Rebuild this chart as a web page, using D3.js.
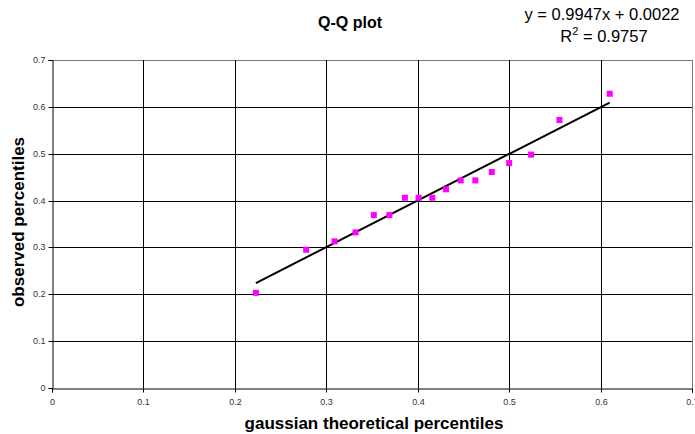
<!DOCTYPE html>
<html>
<head>
<meta charset="utf-8">
<script src="https://cdn.jsdelivr.net/npm/d3@7"></script>
<style>
    html, body { margin: 0; padding: 0; background: #fff; }
</style>
</head>
<body>
<div id="chart"></div>
<script>
// Data
const theoretical = [0.223, 0.278, 0.309, 0.332, 0.352, 0.369, 0.386, 0.401, 0.416,
    0.431, 0.447, 0.463, 0.481, 0.500, 0.524, 0.555, 0.610];
const observed = [0.203, 0.295, 0.313, 0.332, 0.369, 0.369, 0.406, 0.406, 0.406,
    0.424, 0.443, 0.443, 0.461, 0.480, 0.498, 0.572, 0.628];
const xTicks = [0, 0.1, 0.2, 0.3, 0.4, 0.5, 0.6, 0.7];
const yTicks = [0, 0.1, 0.2, 0.3, 0.4, 0.5, 0.6, 0.7];
const trendSlope = 0.9947;
const trendIntercept = 0.0022;
const trendR2 = 0.9757;

class Chart {
    constructor() {
        const attrs = {
            container: "#chart",
            svgWidth: 695,
            svgHeight: 434,
            marginTop: 60,
            marginLeft: 52,
            marginRight: 3,
            marginBottom: 46,
            defaultFont: "Arial, 'Liberation Sans', sans-serif",
            markerColor: "#FF00FF",
            gridColor: "#000",
            tickTextFill: "#333"
        };
        this.getState = () => attrs;
        this.setState = (d) => Object.assign(attrs, d);
    }

    render() {
        this.drawSvgAndWrappers();
        this.drawAxes();
        this.drawPoints();
        this.drawTexts();
        return this;
    }

    drawSvgAndWrappers() {
        const { container, svgWidth, svgHeight, marginTop, marginLeft, marginRight, marginBottom, defaultFont } = this.getState();

        const svg = d3.select(container)
            .append("svg")
            .attr("width", svgWidth)
            .attr("height", svgHeight)
            .attr("font-family", defaultFont);

        const chartWidth = svgWidth - marginLeft - marginRight;
        const chartHeight = svgHeight - marginTop - marginBottom;

        const chart = svg.append("g")
            .attr("transform", `translate(${marginLeft},${marginTop})`);

        const scaleX = d3.scaleLinear().domain([0, 0.7]).range([0, chartWidth]);
        const scaleY = d3.scaleLinear().domain([0, 0.7]).range([chartHeight, 0]);

        this.setState({ svg, chart, chartWidth, chartHeight, scaleX, scaleY });
    }

    drawAxes() {
        const { chart, chartWidth, chartHeight, scaleX, scaleY, gridColor, tickTextFill } = this.getState();
        const crisp = v => Math.round(v) + 0.5;

        // grid lines (outer edges a bit lighter, like the reference)
        chart.append("g").selectAll("line")
            .data(yTicks.slice(1))
            .join("line")
            .attr("x1", 0).attr("x2", chartWidth)
            .attr("y1", d => crisp(scaleY(d))).attr("y2", d => crisp(scaleY(d)))
            .attr("stroke", (d, i) => i === yTicks.length - 2 ? "#777" : gridColor)
            .attr("stroke-width", 1);

        chart.append("g").selectAll("line")
            .data(xTicks.slice(1))
            .join("line")
            .attr("x1", d => crisp(scaleX(d))).attr("x2", d => crisp(scaleX(d)))
            .attr("y1", 0).attr("y2", chartHeight)
            .attr("stroke", (d, i) => i === xTicks.length - 2 ? "#777" : gridColor)
            .attr("stroke-width", 1);

        // Y axis
        const yAxis = d3.axisLeft(scaleY).tickValues(yTicks).tickSize(4).tickPadding(3)
            .tickFormat(d => d3.format("")(+d.toFixed(1)));
        const yAxisWrapper = chart.append("g").attr("transform", "translate(0.5,0)").call(yAxis);
        yAxisWrapper.selectAll(".tick").attr("transform", d => `translate(0,${crisp(scaleY(d))})`);
        yAxisWrapper.selectAll("line").attr("stroke", "#000");
        yAxisWrapper.select(".domain").attr("stroke", "#000");
        yAxisWrapper.selectAll("text").attr("font-size", 9).attr("fill", tickTextFill)
            .attr("font-family", null);

        // X axis
        const xAxis = d3.axisBottom(scaleX).tickValues(xTicks).tickSize(4).tickPadding(6)
            .tickFormat(d => d3.format("")(+d.toFixed(1)));
        const xAxisWrapper = chart.append("g").attr("transform", `translate(0,${Math.round(chartHeight) + 0.5})`).call(xAxis);
        xAxisWrapper.selectAll(".tick").attr("transform", d => `translate(${crisp(scaleX(d))},0)`);
        xAxisWrapper.selectAll("line").attr("stroke", "#000");
        xAxisWrapper.select(".domain").attr("stroke", "#000");
        xAxisWrapper.selectAll("text").attr("font-size", 9).attr("fill", tickTextFill)
            .attr("font-family", null);
    }

    drawPoints() {
        const { chart, scaleX, scaleY, markerColor } = this.getState();
        const size = 6;
        const pts = theoretical.map((x, i) => ({ x, y: observed[i] }));

        // linear trendline over the data range
        const xMin = d3.min(theoretical), xMax = d3.max(theoretical);
        chart.append("line")
            .attr("x1", scaleX(xMin)).attr("y1", scaleY(trendSlope * xMin + trendIntercept))
            .attr("x2", scaleX(xMax)).attr("y2", scaleY(trendSlope * xMax + trendIntercept))
            .attr("stroke", "#000")
            .attr("stroke-width", 2);

        chart.append("g").selectAll("rect")
            .data(pts)
            .join("rect")
            .attr("x", d => scaleX(d.x) - size / 2)
            .attr("y", d => scaleY(d.y) - size / 2)
            .attr("width", size)
            .attr("height", size)
            .attr("fill", markerColor);
    }

    drawTexts() {
        const { svg } = this.getState();

        svg.append("text")
            .attr("x", 350).attr("y", 28)
            .attr("text-anchor", "middle")
            .attr("font-size", 16).attr("font-weight", "bold")
            .text("Q-Q plot");

        svg.append("text")
            .attr("x", 602).attr("y", 20)
            .attr("text-anchor", "middle")
            .attr("font-size", 16.5)
            .text(`y = ${trendSlope}x + ${trendIntercept.toFixed(4)}`);

        const r2 = svg.append("text")
            .attr("x", 604).attr("y", 42)
            .attr("text-anchor", "middle")
            .attr("font-size", 16.5);
        r2.append("tspan").text("R");
        r2.append("tspan").attr("dy", -7).attr("font-size", 11).text("2");
        r2.append("tspan").attr("dy", 7).text(` = ${trendR2}`);

        svg.append("text")
            .attr("x", 374).attr("y", 429)
            .attr("text-anchor", "middle")
            .attr("font-size", 17).attr("font-weight", "bold")
            .text("gaussian theoretical percentiles");

        svg.append("text")
            .attr("transform", "translate(24,222) rotate(-90)")
            .attr("text-anchor", "middle")
            .attr("font-size", 17).attr("font-weight", "bold")
            .text("observed percentiles");
    }
}

new Chart().render();
</script>
</body>
</html>
